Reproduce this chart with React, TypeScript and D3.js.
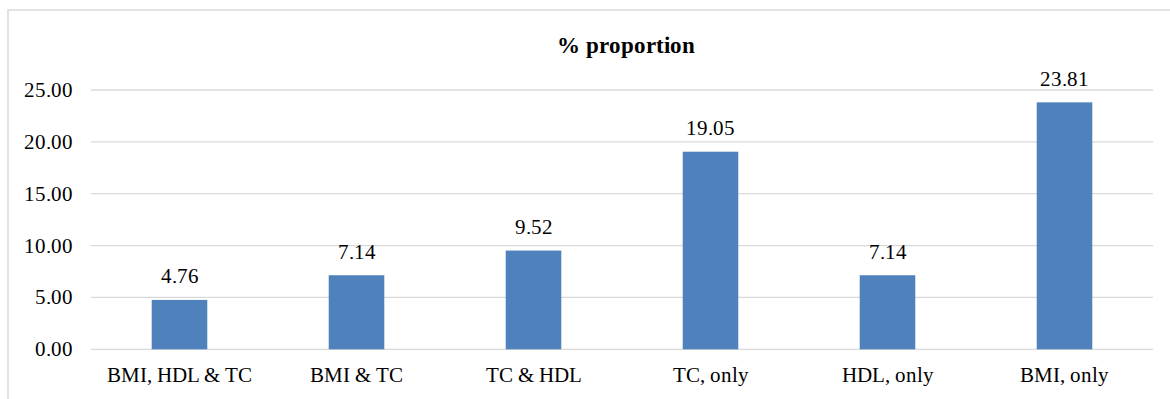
import React from "react";
import * as d3 from "d3";

const categories: string[] = ["BMI, HDL & TC", "BMI & TC", "TC & HDL", "TC, only", "HDL, only", "BMI, only"];
const proportions: number[] = [4.76, 7.14, 9.52, 19.05, 7.14, 23.81];
const yTicks: number[] = [0, 5, 10, 15, 20, 25];
const chartTitle = "% proportion";

const W = 1170;
const H = 399;
const plot = { left: 91, right: 1153, top: 90, bottom: 349.3 };
const FONT = "ChartSerif, 'Liberation Serif', Tinos, 'Times New Roman', serif";
const fmt = d3.format(".2f");

const fontCss = `
@font-face { font-family: "ChartSerif"; font-weight: 400; src: local("Liberation Serif"), local("LiberationSerif"), local("Tinos"); }
@font-face { font-family: "ChartSerif"; font-weight: 700; src: local("Liberation Serif Bold"), local("LiberationSerif-Bold"), local("Tinos Bold"); }
.chart text { font-family: ChartSerif, "Liberation Serif", Tinos, "Times New Roman", serif; }
`;

export default function App() {
  const x = d3.scaleBand<string>().domain(categories).range([plot.left, plot.right]).paddingInner(0.686).paddingOuter(0.343);
  const y = d3.scaleLinear().domain([0, 25]).range([plot.bottom, plot.top]);

  return (
    <svg className="chart" width={W} height={H}
      style={{ position: "absolute", left: 0, top: 0, display: "block", background: "#fff" }}>
      <style>{fontCss}</style>
      {/* chart area frame */}
      <rect x={8} y={10} width={1200} height={420} fill="#fff" stroke="#d9d9d9" strokeWidth={1.5} />

      <text x={(plot.left + plot.right) / 2 + 4} y={52.5} textAnchor="middle" fontFamily={FONT}
        fontWeight="bold" fontSize={23} fill="#000">{chartTitle}</text>

      {/* gridlines and y tick labels */}
      {yTicks.map((t) => (
        <g key={t}>
          <line x1={plot.left} x2={plot.right} y1={y(t)} y2={y(t)} stroke="#d9d9d9" strokeWidth={1.3} />
          <text x={73} y={y(t) + 7} textAnchor="end" fontFamily={FONT} fontSize={21} fill="#000">{fmt(t)}</text>
        </g>
      ))}

      {/* bars with value labels */}
      {proportions.map((v, i) => {
        const bx = x(categories[i]) as number;
        return (
          <g key={i}>
            <rect x={bx} width={x.bandwidth()} y={y(v)} height={y(0) - y(v)} fill="#4f81bd" />
            <text x={bx + x.bandwidth() / 2} y={y(v) - 16.5} textAnchor="middle" fontFamily={FONT}
              fontSize={21} fill="#000">{fmt(v)}</text>
          </g>
        );
      })}

      {/* category labels */}
      {categories.map((c) => (
        <text key={c} x={(x(c) as number) + x.bandwidth() / 2} y={plot.bottom + 32.5} textAnchor="middle"
          fontFamily={FONT} fontSize={21} fill="#000">{c}</text>
      ))}
    </svg>
  );
}
